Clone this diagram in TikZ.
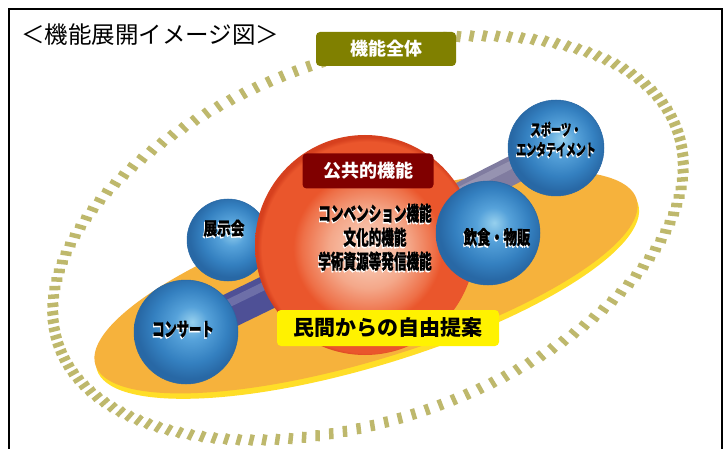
\documentclass[tikz,border=0pt]{standalone}
\usepackage{fontspec}
\usepackage{graphicx}
\newfontfamily\jp{Noto Sans CJK JP}
\newfontfamily\jph{Noto Sans CJK JP}[BoldFeatures={FakeBold=1.2}]

\definecolor{khaki}{RGB}{190,184,108}
\definecolor{olivetag}{RGB}{128,128,0}
\definecolor{maroontag}{RGB}{128,0,0}
\definecolor{discorange}{RGB}{246,178,60}
\definecolor{discrim}{RGB}{255,222,40}
\definecolor{rodblue}{RGB}{78,80,150}
\definecolor{rodgrey}{RGB}{128,124,160}
\definecolor{bA}{RGB}{150,208,238}
\definecolor{bB}{RGB}{86,162,218}
\definecolor{bC}{RGB}{52,128,192}
\definecolor{bD}{RGB}{40,104,165}
\definecolor{rA}{RGB}{250,214,196}
\definecolor{rB}{RGB}{244,168,138}
\definecolor{rC}{RGB}{238,112,72}
\definecolor{rD}{RGB}{234,86,44}
\definecolor{rE}{RGB}{214,64,30}

\pgfdeclareradialshading{bluesphere}{\pgfpoint{3bp}{5bp}}{color(0bp)=(bA); color(8bp)=(bB); color(18bp)=(bC); color(25bp)=(bD); color(50bp)=(bD)}
\pgfdeclareradialshading{redsphere}{\pgfpoint{1bp}{-1bp}}{color(0bp)=(rA); color(9bp)=(rB); color(15bp)=(rC); color(17bp)=(rD); color(24bp)=(rD); color(25bp)=(rE); color(50bp)=(rE)}

\pgfdeclarelayer{back}
\pgfdeclarelayer{rods}
\pgfsetlayers{back,rods,main}

% white copy under the letters
\newcommand\wsh[1]{\makebox[0pt][l]{\hspace*{-1.3pt}\raisebox{-1.6pt}{\color{white}#1}}#1}
\newcommand\sq[2]{\scalebox{#1}[1]{\wsh{#2}}}

\begin{document}
\begin{tikzpicture}[x=1pt,y=-1pt]
\tikzstyle{ball}=[circle,inner sep=0,shading=bluesphere,draw=bD,line width=0.5]
\tikzstyle{tag}=[rounded corners=4,inner sep=0]
\tikzstyle{tick}=[line width=4.5,draw=khaki]
\tikzstyle{rod}=[line width=34,draw=rodblue]
\tikzstyle{rodhi}=[line width=8,draw=white,opacity=0.18]
\useasboundingbox (0,0) rectangle (728,449);

\node[anchor=west,inner sep=0,font=\jp\fontsize{23.5}{28}\selectfont] (title) at (21,35) {＜機能展開イメージ図＞};

\node[ball,minimum size=82] (tenji) at (228,240) {};
\node[circle,inner sep=0,minimum size=220,shading=redsphere] (kokyo) at (365,245) {};
\node[ball,minimum size=104] (inshoku) at (488,233) {};
\node[ball,minimum size=96] (sports) at (556,148) {};
\node[ball,minimum size=104] (concert) at (186,332) {};

\begin{pgfonlayer}{back}
\fill[white] (0,0) rectangle (728,449);
\begin{scope}[shift={(368,238)},rotate=19]
\foreach \t in {0,2.5,...,357.5}
  \draw[tick] ({322*cos(\t)},{176*sin(\t)}) -- ({333*cos(\t)},{187*sin(\t)});
\end{scope}
\begin{scope}[shift={(366,282)},rotate=17]
\fill[discrim] (0,5) ellipse [x radius=283,y radius=79];
\fill[discorange] (0,0) ellipse [x radius=283,y radius=78];
\end{scope}
\end{pgfonlayer}

\begin{pgfonlayer}{rods}
\draw[rod] (concert.center) -- (kokyo.center);
\draw[rodhi] ([yshift=8]concert.center) -- ([yshift=8]kokyo.center);
\draw[rod,draw=rodgrey,line width=28] (kokyo.center) -- (sports.center);
\draw[rodhi] ([yshift=6]kokyo.center) -- ([yshift=6]sports.center);
\end{pgfonlayer}

\node[font=\jph\bfseries\fontsize{18}{20}\selectfont] (tenjiT) at (224,229) {\sq{0.76}{展示会}};
\node[font=\jph\bfseries\fontsize{19}{22}\selectfont] (concertT) at (183,330) {\sq{0.65}{コンサート}};
\node[font=\jph\bfseries\fontsize{19}{22}\selectfont] (inshokuT) at (497,238) {\sq{0.7}{飲食・物販}};
\node[align=center,font=\jph\bfseries\fontsize{16}{20}\selectfont] (sportsT) at (556,140) {\sq{0.64}{スポーツ・}\\\sq{0.62}{エンタテイメント}};
\node[align=center,font=\jph\bfseries\fontsize{20}{24}\selectfont] (kinou) at (375,238) {\sq{0.63}{コンベンション機能}\\\sq{0.63}{文化的機能}\\\sq{0.63}{学術資源等発信機能}};

\node[tag,fill=olivetag,text=white,minimum width=140,minimum height=34,font=\jp\bfseries\fontsize{18}{20}\selectfont] (zentai) at (386,49) {機能全体};
\node[tag,fill=maroontag,text=white,minimum width=131,minimum height=35,font=\jp\bfseries\fontsize{18}{20}\selectfont] (kokyoT) at (368,171) {公共的機能};
\node[tag,fill=yellow,minimum width=222,minimum height=36,font=\jp\bfseries\fontsize{21}{24}\selectfont] (minkan) at (388,328) {民間からの自由提案};

\draw[line width=2] (9,452) -- (9,9) -- (722,9) -- (722,452);
\end{tikzpicture}
\end{document}
